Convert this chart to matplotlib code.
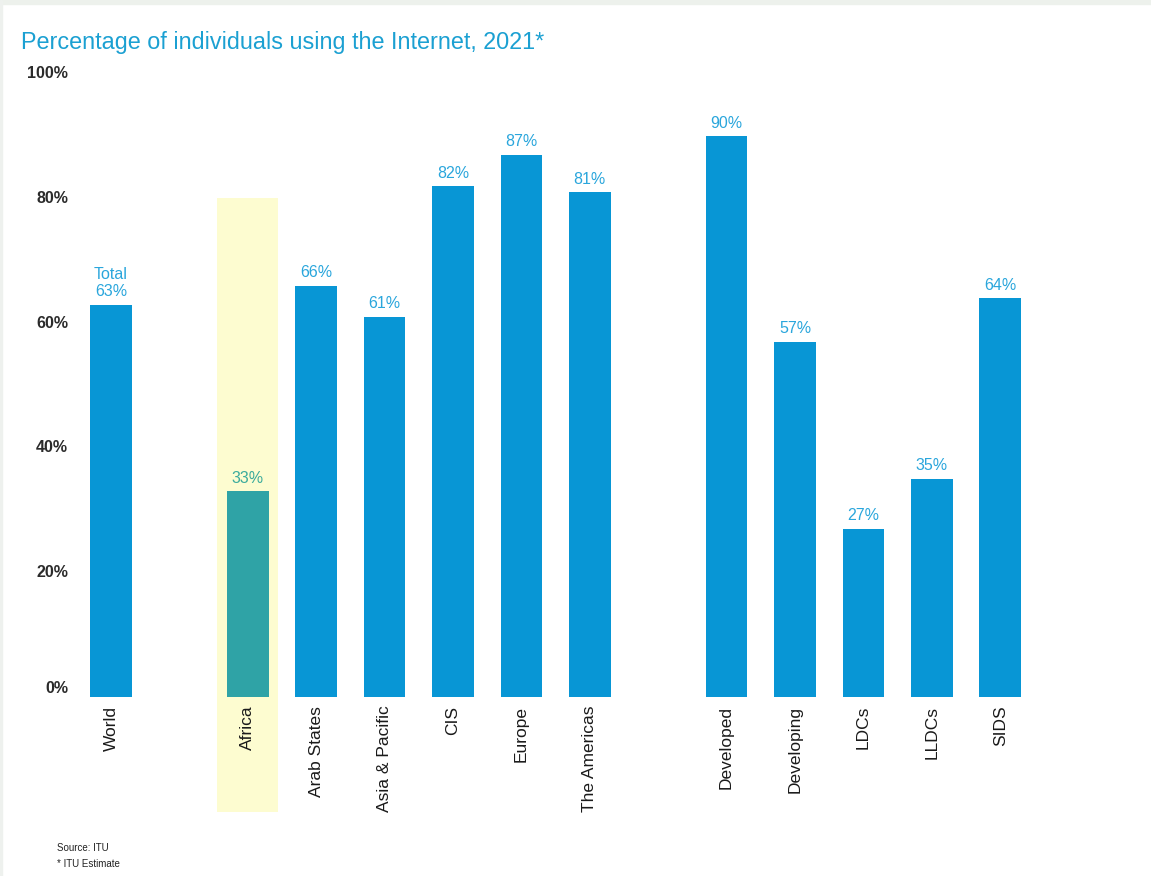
import matplotlib
matplotlib.use('Agg')
import matplotlib.pyplot as plt
from matplotlib.patches import Rectangle

plt.rcParams['font.family'] = ['Liberation Sans', 'DejaVu Sans']

# data
categories = ['World', 'Africa', 'Arab States', 'Asia & Pacific', 'CIS', 'Europe',
              'The Americas', 'Developed', 'Developing', 'LDCs', 'LLDCs', 'SIDS']
positions = [0, 2, 3, 4, 5, 6, 7, 9, 10, 11, 12, 13]
values = [63, 33, 66, 61, 82, 87, 81, 90, 57, 27, 35, 64]
highlight = 'Africa'
ytick_values = [0, 20, 40, 60, 80, 100]

bar_blue = '#0896d5'
label_blue = '#2aa6dc'
africa_bar = '#2fa3a6'
africa_label = '#3bab9c'

fig = plt.figure(figsize=(11.51, 8.76), dpi=100)
fig.patches.append(Rectangle((0, 1 - 4 / 876), 1, 4 / 876, transform=fig.transFigure,
                             color='#edf1ec', zorder=0))
fig.patches.append(Rectangle((0, 0), 2 / 1151, 1, transform=fig.transFigure,
                             color='#eef1ee', zorder=0))

ax = fig.add_axes([42.6 / 1151, (876 - 697) / 876, 1026 / 1151, 623 / 876])
ax.set_xlim(-1, 14)
ax.set_ylim(0, 100)
ax.axis('off')

for pos, cat, val in zip(positions, categories, values):
    is_hl = cat == highlight
    if is_hl:
        ax.add_patch(Rectangle((pos - 0.445, -18.5), 0.89, 98.6, color='#fdfcd0',
                               zorder=0, clip_on=False, lw=0))
    ax.bar(pos, val, width=0.61, color=africa_bar if is_hl else bar_blue, zorder=2)
    txt = f'Total\n{val}%' if cat == 'World' else f'{val}%'
    ax.annotate(txt, (pos, val), xytext=(0, 4), textcoords='offset points',
                ha='center', va='bottom', fontsize=11.5, linespacing=1.15,
                color=africa_label if is_hl else label_blue)
    ax.text(pos, -1.4, cat, rotation=90, ha='center', va='top', fontsize=12.5,
            color='#1a1a1a', clip_on=False)

for yv in ytick_values:
    ax.text(-0.63, yv + (1.4 if yv == 0 else 0), f'{yv}%', ha='right', va='center',
            fontsize=11.5, color='#2b2b2b', fontweight='bold', clip_on=False)

fig.text(21 / 1151, 1 - 42 / 876, 'Percentage of individuals using the Internet, 2021*',
         fontsize=16.8, color='#1ba0d2', va='center', ha='left')
fig.text(57 / 1151, 1 - 848 / 876, 'Source: ITU', fontsize=7, color='#222222', va='center')
fig.text(57 / 1151, 1 - 864 / 876, '* ITU Estimate', fontsize=7, color='#222222', va='center')

fig.savefig('out.png', dpi=100)
